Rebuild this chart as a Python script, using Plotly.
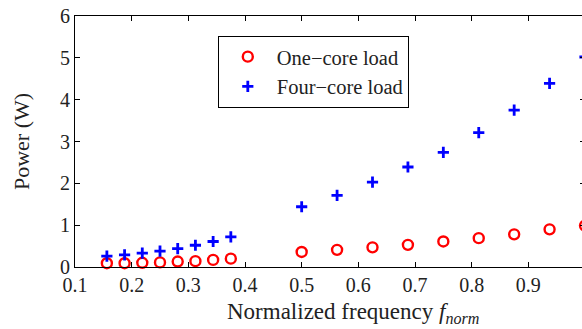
import plotly.graph_objects as go

freq_low = [5/32, 6/32, 7/32, 8/32, 9/32, 10/32, 11/32, 12/32]
freq_high = [8/16, 9/16, 10/16, 11/16, 12/16, 13/16, 14/16, 15/16, 16/16]
freq = freq_low + freq_high

one_core = [0.09, 0.09, 0.10, 0.11, 0.13, 0.14, 0.17, 0.20,
            0.36, 0.41, 0.47, 0.53, 0.61, 0.69, 0.78, 0.90, 0.99]
four_core = [0.26, 0.29, 0.33, 0.38, 0.44, 0.52, 0.61, 0.72,
             1.44, 1.71, 2.03, 2.39, 2.74, 3.21, 3.75, 4.39, 5.02]

x_ticks = [0.1, 0.2, 0.3, 0.4, 0.5, 0.6, 0.7, 0.8, 0.9]
x_tick_labels = ["0.1", "0.2", "0.3", "0.4", "0.5", "0.6", "0.7", "0.8", "0.9"]
y_ticks = [0, 1, 2, 3, 4, 5, 6]

x_title = "Normalized frequency <i>f</i><sub><i>norm</i></sub>"
y_title = "Power (W)"

font_family = "Liberation Serif, Times New Roman, serif"

fig = go.Figure()
fig.add_trace(go.Scatter(
    x=freq, y=one_core, mode="markers", name="One\u2212core load",
    marker=dict(symbol="circle-open", size=10, color="#ff0000",
                line=dict(width=2.4, color="#ff0000")),
    cliponaxis=False,
))
fig.add_trace(go.Scatter(
    x=freq, y=four_core, mode="markers", name="Four\u2212core load",
    marker=dict(symbol="cross-thin", size=8, color="#0000ff",
                line=dict(width=2.8, color="#0000ff")),
    cliponaxis=False,
))

axis_common = dict(
    showline=True, linecolor="black", linewidth=1, mirror="ticks",
    ticks="inside", ticklen=5, tickcolor="black", tickwidth=1,
    showgrid=False, zeroline=False,
    tickfont=dict(family=font_family, size=20, color="#222"),
)

fig.update_layout(
    width=590, height=329,
    margin=dict(l=75, r=5, t=16, b=62),
    paper_bgcolor="white", plot_bgcolor="white",
    font=dict(family=font_family, color="#222"),
    xaxis=dict(range=[0.1, 1.0], tickvals=x_ticks + [1.0],
               ticktext=x_tick_labels + [""], **axis_common),
    yaxis=dict(range=[0, 6], tickvals=y_ticks,
               title=dict(text=y_title, font=dict(family=font_family, size=22),
                          standoff=24),
               **axis_common),
    legend=dict(x=0.28, y=0.921, xanchor="left", yanchor="top",
                bordercolor="black", borderwidth=1, bgcolor="white",
                font=dict(family=font_family, size=20.5, color="#222"),
                tracegroupgap=0, itemsizing="trace", itemwidth=48),
    showlegend=True,
    annotations=[dict(text=x_title, xref="paper", yref="paper",
                      x=0.545, y=-0.185, xanchor="center", yanchor="middle",
                      showarrow=False,
                      font=dict(family=font_family, size=23, color="#222"))],
)

fig.write_html("out.html", config={"displayModeBar": False}, post_script=(
    "document.body.style.margin='0';"
    "document.body.style.overflow='hidden';"
    "document.documentElement.style.overflow='hidden';"
))
